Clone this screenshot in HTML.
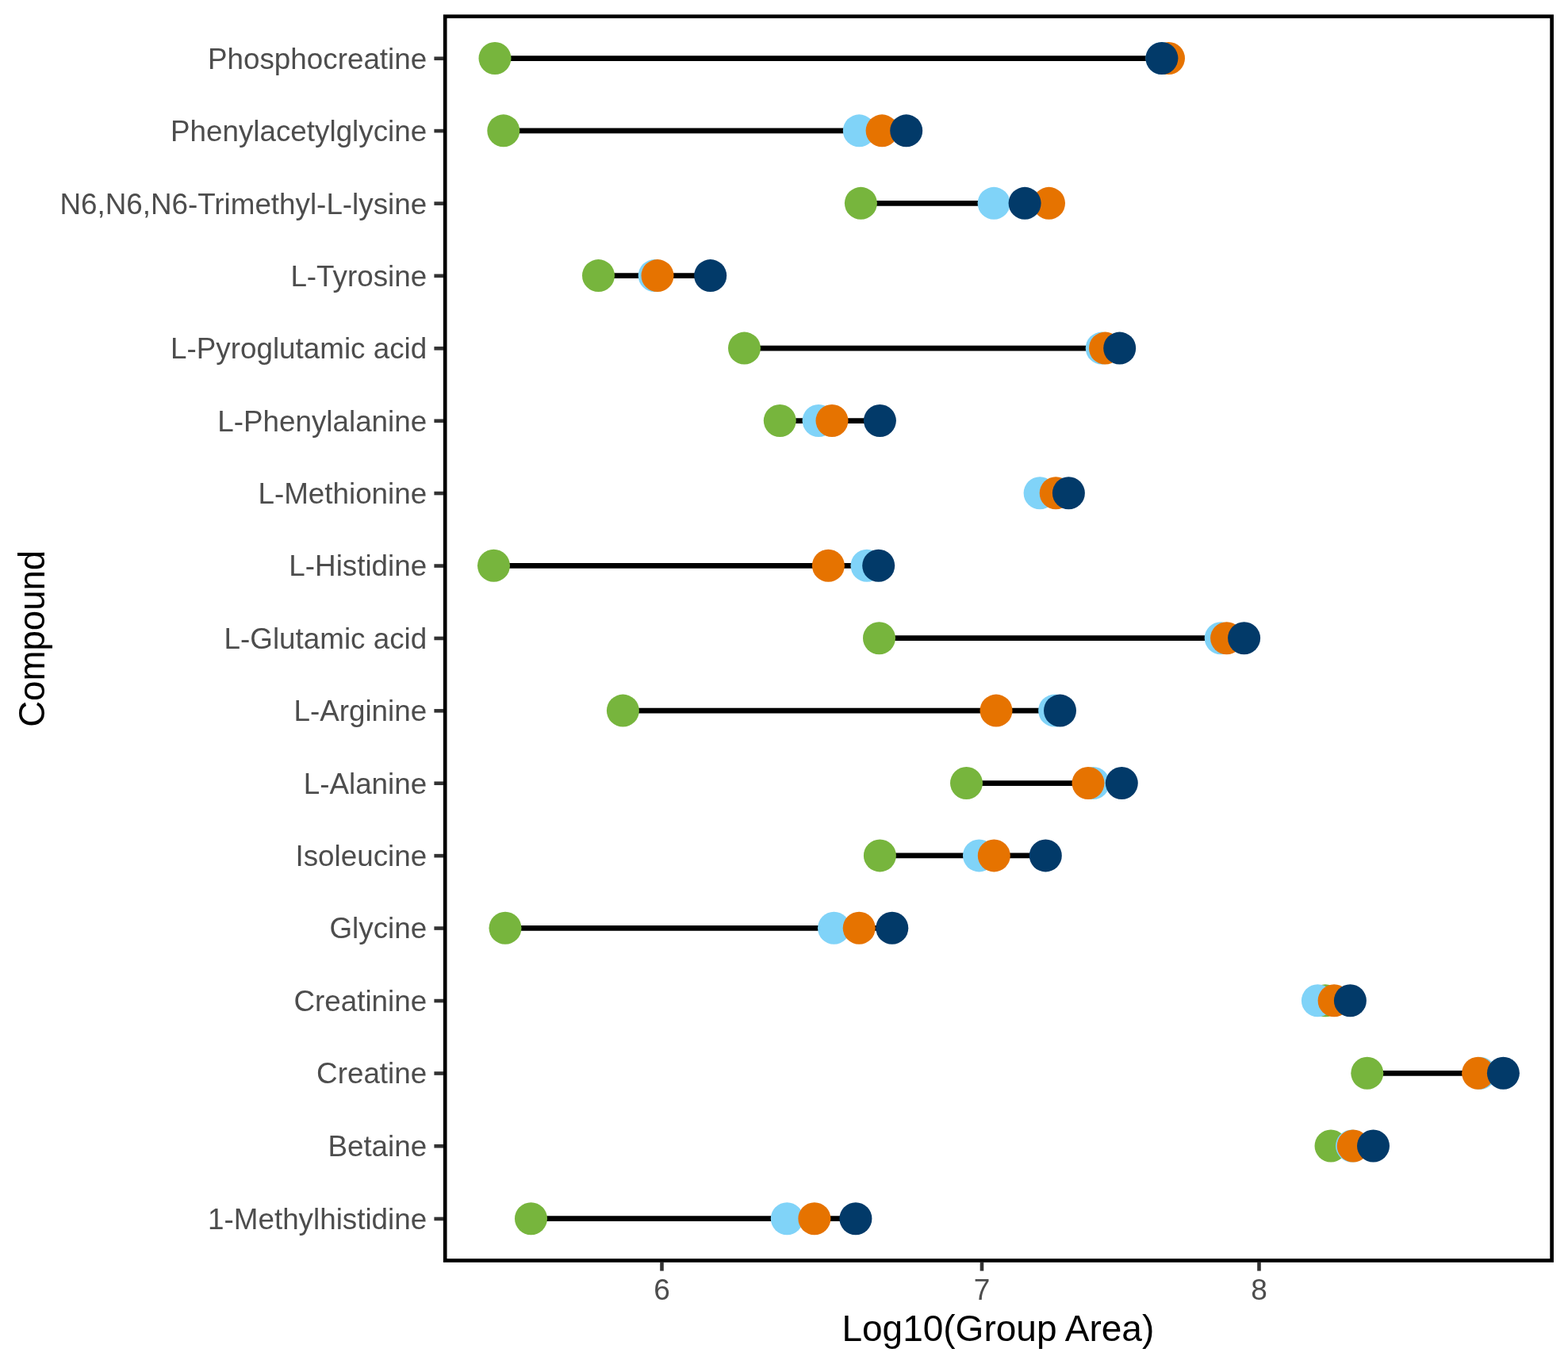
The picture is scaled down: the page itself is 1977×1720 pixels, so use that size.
<!DOCTYPE html><html><head><meta charset="utf-8"><title>Compound dumbbell plot</title><style>html,body{margin:0;padding:0;background:#fff;}svg{display:block;}text{font-family:"Liberation Sans",Arial,sans-serif;}</style></head><body>
<svg width="1977" height="1720" viewBox="0 0 1977 1720">
<rect x="0" y="0" width="1977" height="1720" fill="#fff"/>
<g stroke="#000" stroke-width="6.75" stroke-linecap="butt">
<line x1="624.0" y1="73.50" x2="1473.5" y2="73.50"/>
<line x1="634.8" y1="164.83" x2="1142.7" y2="164.83"/>
<line x1="1085.4" y1="256.35" x2="1322.5" y2="256.35"/>
<line x1="754.5" y1="347.60" x2="895.7" y2="347.60"/>
<line x1="938.5" y1="439.09" x2="1411.7" y2="439.09"/>
<line x1="983.3" y1="530.50" x2="1109.4" y2="530.50"/>
<line x1="1311.1" y1="621.80" x2="1347.4" y2="621.80"/>
<line x1="622.5" y1="713.30" x2="1107.7" y2="713.30"/>
<line x1="1108.5" y1="804.70" x2="1568.6" y2="804.70"/>
<line x1="785.4" y1="896.10" x2="1336.5" y2="896.10"/>
<line x1="1218.5" y1="987.50" x2="1414.3" y2="987.50"/>
<line x1="1109.4" y1="1078.90" x2="1318.3" y2="1078.90"/>
<line x1="637.0" y1="1170.30" x2="1124.8" y2="1170.30"/>
<line x1="1661.4" y1="1261.80" x2="1702.4" y2="1261.80"/>
<line x1="1723.8" y1="1353.26" x2="1895.4" y2="1353.26"/>
<line x1="1678.0" y1="1445.00" x2="1731.5" y2="1445.00"/>
<line x1="669.5" y1="1536.70" x2="1078.9" y2="1536.70"/>
</g>
<g fill="#77B53D">
<circle cx="624.0" cy="73.50" r="20.5"/>
<circle cx="634.8" cy="164.83" r="20.5"/>
<circle cx="1085.4" cy="256.35" r="20.5"/>
<circle cx="754.5" cy="347.60" r="20.5"/>
<circle cx="938.5" cy="439.09" r="20.5"/>
<circle cx="983.3" cy="530.50" r="20.5"/>
<circle cx="622.5" cy="713.30" r="20.5"/>
<circle cx="1108.5" cy="804.70" r="20.5"/>
<circle cx="785.4" cy="896.10" r="20.5"/>
<circle cx="1218.5" cy="987.50" r="20.5"/>
<circle cx="1109.4" cy="1078.90" r="20.5"/>
<circle cx="637.0" cy="1170.30" r="20.5"/>
<circle cx="1671.0" cy="1261.80" r="20.5"/>
<circle cx="1723.8" cy="1353.26" r="20.5"/>
<circle cx="1678.0" cy="1445.00" r="20.5"/>
<circle cx="669.5" cy="1536.70" r="20.5"/>
</g>
<g fill="#80D3F8">
<circle cx="1465.0" cy="73.50" r="20.5"/>
<circle cx="1083.3" cy="164.83" r="20.5"/>
<circle cx="1253.1" cy="256.35" r="20.5"/>
<circle cx="825.2" cy="347.60" r="20.5"/>
<circle cx="1389.2" cy="439.09" r="20.5"/>
<circle cx="1032.1" cy="530.50" r="20.5"/>
<circle cx="1311.1" cy="621.80" r="20.5"/>
<circle cx="1093.0" cy="713.30" r="20.5"/>
<circle cx="1539.2" cy="804.70" r="20.5"/>
<circle cx="1329.6" cy="896.10" r="20.5"/>
<circle cx="1378.5" cy="987.50" r="20.5"/>
<circle cx="1234.5" cy="1078.90" r="20.5"/>
<circle cx="1051.5" cy="1170.30" r="20.5"/>
<circle cx="1661.4" cy="1261.80" r="20.5"/>
<circle cx="1866.0" cy="1353.26" r="20.5"/>
<circle cx="1704.5" cy="1445.00" r="20.5"/>
<circle cx="992.3" cy="1536.70" r="20.5"/>
</g>
<g fill="#E67300">
<circle cx="1473.5" cy="73.50" r="20.5"/>
<circle cx="1112.1" cy="164.83" r="20.5"/>
<circle cx="1322.5" cy="256.35" r="20.5"/>
<circle cx="829.0" cy="347.60" r="20.5"/>
<circle cx="1393.5" cy="439.09" r="20.5"/>
<circle cx="1049.0" cy="530.50" r="20.5"/>
<circle cx="1331.2" cy="621.80" r="20.5"/>
<circle cx="1044.4" cy="713.30" r="20.5"/>
<circle cx="1546.6" cy="804.70" r="20.5"/>
<circle cx="1256.0" cy="896.10" r="20.5"/>
<circle cx="1372.0" cy="987.50" r="20.5"/>
<circle cx="1253.3" cy="1078.90" r="20.5"/>
<circle cx="1083.2" cy="1170.30" r="20.5"/>
<circle cx="1682.1" cy="1261.80" r="20.5"/>
<circle cx="1863.6" cy="1353.26" r="20.5"/>
<circle cx="1706.2" cy="1445.00" r="20.5"/>
<circle cx="1026.9" cy="1536.70" r="20.5"/>
</g>
<g fill="#023A69">
<circle cx="1464.9" cy="73.50" r="20.5"/>
<circle cx="1142.7" cy="164.83" r="20.5"/>
<circle cx="1292.1" cy="256.35" r="20.5"/>
<circle cx="895.7" cy="347.60" r="20.5"/>
<circle cx="1411.7" cy="439.09" r="20.5"/>
<circle cx="1109.4" cy="530.50" r="20.5"/>
<circle cx="1347.4" cy="621.80" r="20.5"/>
<circle cx="1107.7" cy="713.30" r="20.5"/>
<circle cx="1568.6" cy="804.70" r="20.5"/>
<circle cx="1336.5" cy="896.10" r="20.5"/>
<circle cx="1414.3" cy="987.50" r="20.5"/>
<circle cx="1318.3" cy="1078.90" r="20.5"/>
<circle cx="1124.8" cy="1170.30" r="20.5"/>
<circle cx="1702.4" cy="1261.80" r="20.5"/>
<circle cx="1895.4" cy="1353.26" r="20.5"/>
<circle cx="1731.5" cy="1445.00" r="20.5"/>
<circle cx="1078.9" cy="1536.70" r="20.5"/>
</g>
<rect x="561.2" y="20.7" width="1395.4" height="1568.8" fill="none" stroke="#000" stroke-width="4.7"/>
<g stroke="#333333" stroke-width="4.6">
<line x1="547.4" y1="73.75" x2="559" y2="73.75"/>
<line x1="547.4" y1="165.08" x2="559" y2="165.08"/>
<line x1="547.4" y1="256.60" x2="559" y2="256.60"/>
<line x1="547.4" y1="347.85" x2="559" y2="347.85"/>
<line x1="547.4" y1="439.34" x2="559" y2="439.34"/>
<line x1="547.4" y1="530.75" x2="559" y2="530.75"/>
<line x1="547.4" y1="622.05" x2="559" y2="622.05"/>
<line x1="547.4" y1="713.55" x2="559" y2="713.55"/>
<line x1="547.4" y1="804.95" x2="559" y2="804.95"/>
<line x1="547.4" y1="896.35" x2="559" y2="896.35"/>
<line x1="547.4" y1="987.75" x2="559" y2="987.75"/>
<line x1="547.4" y1="1079.15" x2="559" y2="1079.15"/>
<line x1="547.4" y1="1170.55" x2="559" y2="1170.55"/>
<line x1="547.4" y1="1262.05" x2="559" y2="1262.05"/>
<line x1="547.4" y1="1353.51" x2="559" y2="1353.51"/>
<line x1="547.4" y1="1445.25" x2="559" y2="1445.25"/>
<line x1="547.4" y1="1536.95" x2="559" y2="1536.95"/>
<line x1="834.50" y1="1592" x2="834.50" y2="1602.6"/>
<line x1="1237.98" y1="1592" x2="1237.98" y2="1602.6"/>
<line x1="1587.49" y1="1592" x2="1587.49" y2="1602.6"/>
</g>
<g fill="#4D4D4D" font-size="36.8" text-anchor="end">
<text x="538.2" y="86.65">Phosphocreatine</text>
<text x="538.2" y="177.98">Phenylacetylglycine</text>
<text x="538.2" y="269.50">N6,N6,N6-Trimethyl-L-lysine</text>
<text x="538.2" y="360.75">L-Tyrosine</text>
<text x="538.2" y="452.24">L-Pyroglutamic acid</text>
<text x="538.2" y="543.65">L-Phenylalanine</text>
<text x="538.2" y="634.95">L-Methionine</text>
<text x="538.2" y="726.45">L-Histidine</text>
<text x="538.2" y="817.85">L-Glutamic acid</text>
<text x="538.2" y="909.25">L-Arginine</text>
<text x="538.2" y="1000.65">L-Alanine</text>
<text x="538.2" y="1092.05">Isoleucine</text>
<text x="538.2" y="1183.45">Glycine</text>
<text x="538.2" y="1274.95">Creatinine</text>
<text x="538.2" y="1366.41">Creatine</text>
<text x="538.2" y="1458.15">Betaine</text>
<text x="538.2" y="1549.85">1-Methylhistidine</text>
</g>
<g fill="#4D4D4D" font-size="37.0" text-anchor="middle">
<text x="834.50" y="1638.6">6</text>
<text x="1237.98" y="1638.6">7</text>
<text x="1587.49" y="1638.6">8</text>
</g>
<text x="1258.3" y="1691" font-size="46.0" fill="#000" text-anchor="middle">Log10(Group Area)</text>
<text transform="translate(55.6,805.3) rotate(-90)" font-size="45.6" fill="#000" text-anchor="middle">Compound</text>
</svg></body></html>
